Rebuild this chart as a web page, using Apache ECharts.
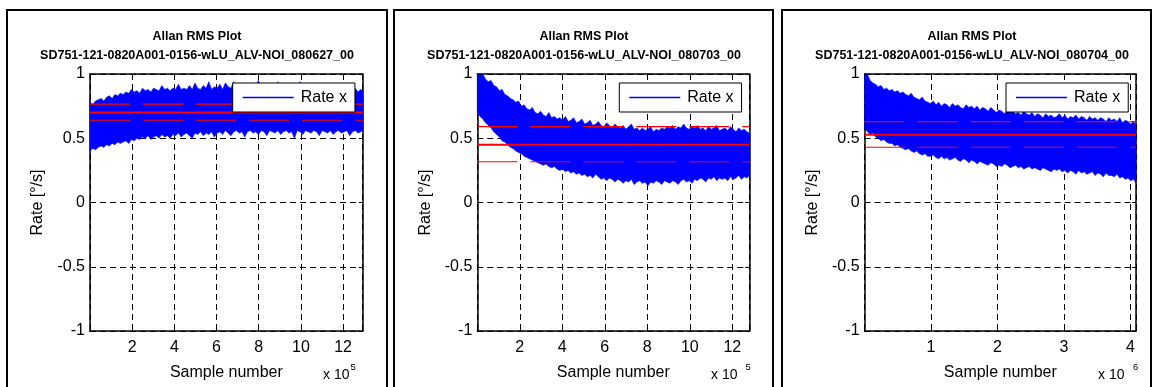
<!DOCTYPE html>
<html>
<head>
<meta charset="utf-8">
<script src="https://cdn.jsdelivr.net/npm/echarts@6/dist/echarts.min.js"></script>
<style>
  html, body { margin: 0; padding: 0; background: #fff; }
  #chart { width: 1153px; height: 387px; }
</style>
</head>
<body>
<div id="chart"></div>
<script>
// ---- data ----
const chartTitle = 'Allan RMS Plot';
const runNames = [
  'SD751-121-0820A001-0156-wLU_ALV-NOI_080627_00',
  'SD751-121-0820A001-0156-wLU_ALV-NOI_080703_00',
  'SD751-121-0820A001-0156-wLU_ALV-NOI_080704_00'
];
const seriesName = 'Rate x';
const xAxisName = 'Sample number';
const yAxisName = 'Rate [°/s]';
const xExponents = ['5', '5', '6'];
const xScale = [1e5, 1e5, 1e6];
const xMax = [1293000, 1280000, 4085000];
const xInterval = [200000, 200000, 1000000];
const yMin = -1, yMax = 1, yInterval = 0.5;

// rate envelope (min / max of the raw rate within each block of samples)
const p1Step = 13100;
const p1Hi = [
  0.78, 0.76, 0.79, 0.80, 0.81, 0.79, 0.82, 0.83, 0.81, 0.84,
  0.83, 0.85, 0.84, 0.86, 0.85, 0.88, 0.86, 0.87, 0.85, 0.89,
  0.87, 0.88, 0.86, 0.89, 0.88, 0.87, 0.91, 0.88, 0.89, 0.87,
  0.89, 0.88, 0.92, 0.88, 0.89, 0.88, 0.91, 0.88, 0.93, 0.89,
  0.88, 0.91, 0.89, 0.94, 0.88, 0.90, 0.89, 0.92, 0.88, 0.93,
  0.90, 0.89, 0.94, 0.90, 0.89, 0.92, 0.88, 0.93, 0.90, 0.89,
  0.91, 0.95, 0.89, 0.90, 0.93, 0.89, 0.91, 0.90, 0.94, 0.89,
  0.90, 0.93, 0.89, 0.91, 0.88, 0.90, 0.94, 0.89, 0.90, 0.88,
  0.92, 0.89, 0.88, 0.91, 0.88, 0.89, 0.93, 0.88, 0.88, 0.90,
  0.88, 0.91, 0.88, 0.87, 0.90, 0.88, 0.89, 0.86, 0.88, 0.87
];
const p1Lo = [
  0.40, 0.42, 0.41, 0.43, 0.44, 0.43, 0.45, 0.44, 0.46, 0.45,
  0.47, 0.46, 0.47, 0.48, 0.46, 0.49, 0.48, 0.50, 0.49, 0.51,
  0.50, 0.52, 0.49, 0.51, 0.52, 0.50, 0.53, 0.51, 0.52, 0.50,
  0.53, 0.52, 0.54, 0.51, 0.53, 0.54, 0.52, 0.50, 0.54, 0.53,
  0.55, 0.52, 0.54, 0.53, 0.55, 0.51, 0.54, 0.55, 0.53, 0.56,
  0.54, 0.52, 0.55, 0.56, 0.54, 0.55, 0.51, 0.55, 0.56, 0.54,
  0.55, 0.53, 0.56, 0.55, 0.52, 0.56, 0.55, 0.54, 0.56, 0.53,
  0.55, 0.56, 0.54, 0.55, 0.50, 0.56, 0.55, 0.53, 0.56, 0.55,
  0.54, 0.56, 0.55, 0.52, 0.56, 0.55, 0.54, 0.56, 0.53, 0.55,
  0.56, 0.54, 0.55, 0.56, 0.52, 0.55, 0.56, 0.54, 0.55, 0.56
];

const p2Step = 12950;
const p2Hi = [
  1.02, 0.99, 1.00, 0.96, 0.94, 0.95, 0.91, 0.90, 0.87, 0.88,
  0.84, 0.83, 0.81, 0.80, 0.78, 0.79, 0.75, 0.76, 0.73, 0.72,
  0.74, 0.70, 0.69, 0.71, 0.68, 0.67, 0.70, 0.66, 0.67, 0.65,
  0.66, 0.64, 0.67, 0.63, 0.64, 0.66, 0.62, 0.63, 0.65, 0.61,
  0.62, 0.64, 0.60, 0.61, 0.63, 0.60, 0.59, 0.62, 0.60, 0.58,
  0.61, 0.59, 0.58, 0.60, 0.57, 0.59, 0.61, 0.57, 0.58, 0.56,
  0.58, 0.56, 0.57, 0.59, 0.55, 0.57, 0.56, 0.58, 0.57, 0.59,
  0.58, 0.60, 0.57, 0.59, 0.58, 0.61, 0.58, 0.57, 0.59, 0.58,
  0.60, 0.57, 0.58, 0.56, 0.59, 0.57, 0.58, 0.60, 0.56, 0.57,
  0.58, 0.56, 0.59, 0.57, 0.55, 0.58, 0.56, 0.57, 0.55, 0.54
];
const p2Lo = [
  0.70, 0.67, 0.65, 0.62, 0.60, 0.58, 0.55, 0.53, 0.51, 0.48,
  0.47, 0.45, 0.43, 0.42, 0.40, 0.39, 0.38, 0.36, 0.35, 0.34,
  0.33, 0.32, 0.31, 0.30, 0.29, 0.30, 0.28, 0.27, 0.28, 0.26,
  0.25, 0.26, 0.24, 0.25, 0.23, 0.24, 0.22, 0.23, 0.21, 0.22,
  0.20, 0.21, 0.19, 0.22, 0.20, 0.18, 0.19, 0.17, 0.19, 0.18,
  0.16, 0.18, 0.17, 0.15, 0.17, 0.16, 0.18, 0.14, 0.16, 0.17,
  0.15, 0.16, 0.13, 0.16, 0.15, 0.17, 0.16, 0.14, 0.17, 0.16,
  0.15, 0.17, 0.16, 0.14, 0.17, 0.18, 0.16, 0.17, 0.15, 0.18,
  0.17, 0.19, 0.18, 0.16, 0.19, 0.18, 0.20, 0.17, 0.19, 0.18,
  0.19, 0.17, 0.20, 0.18, 0.19, 0.21, 0.18, 0.20, 0.19, 0.21
];

const p3Step = 41300;
const p3Hi = [
  0.99, 1.00, 0.95, 0.93, 0.92, 0.90, 0.91, 0.88, 0.89, 0.87,
  0.88, 0.86, 0.87, 0.85, 0.86, 0.84, 0.83, 0.85, 0.82, 0.81,
  0.80, 0.82, 0.79, 0.78, 0.77, 0.79, 0.76, 0.78, 0.75, 0.77,
  0.76, 0.74, 0.77, 0.75, 0.76, 0.74, 0.73, 0.76, 0.74, 0.75,
  0.73, 0.75, 0.72, 0.74, 0.73, 0.71, 0.74, 0.72, 0.70, 0.72,
  0.71, 0.69, 0.72, 0.70, 0.71, 0.69, 0.70, 0.68, 0.71, 0.69,
  0.68, 0.70, 0.67, 0.69, 0.68, 0.66, 0.69, 0.67, 0.68, 0.66,
  0.67, 0.69, 0.66, 0.68, 0.65, 0.67, 0.66, 0.68, 0.65, 0.67,
  0.66, 0.64, 0.67, 0.65, 0.66, 0.64, 0.66, 0.65, 0.63, 0.66,
  0.64, 0.65, 0.63, 0.66, 0.62, 0.64, 0.63, 0.61, 0.63, 0.60
];
const p3Lo = [
  0.58, 0.55, 0.53, 0.54, 0.51, 0.50, 0.48, 0.49, 0.47, 0.46,
  0.46, 0.44, 0.45, 0.43, 0.42, 0.41, 0.42, 0.40, 0.39, 0.40,
  0.38, 0.37, 0.38, 0.36, 0.36, 0.37, 0.35, 0.34, 0.36, 0.34,
  0.35, 0.33, 0.34, 0.35, 0.33, 0.32, 0.34, 0.33, 0.31, 0.33,
  0.32, 0.30, 0.32, 0.31, 0.30, 0.29, 0.31, 0.30, 0.28, 0.29,
  0.28, 0.30, 0.29, 0.27, 0.28, 0.29, 0.27, 0.28, 0.26, 0.27,
  0.28, 0.26, 0.27, 0.26, 0.25, 0.27, 0.26, 0.25, 0.24, 0.26,
  0.25, 0.26, 0.24, 0.25, 0.23, 0.25, 0.24, 0.22, 0.25, 0.23,
  0.24, 0.22, 0.23, 0.24, 0.21, 0.23, 0.22, 0.20, 0.23, 0.21,
  0.21, 0.20, 0.22, 0.19, 0.20, 0.18, 0.19, 0.17, 0.18, 0.15
];

// mean rate and mean +/- one standard deviation
const rateMean  = [0.700, 0.450, 0.528];
const rateUpper = [0.765, 0.590, 0.629];
const rateLower = [0.640, 0.317, 0.430];

// ---- layout ----
const FONT = '"Liberation Sans", Arial, Helvetica, sans-serif';
const panels = [
  { x: 7,   w: 380, titleX: 197 },
  { x: 394, w: 379, titleX: 584 },
  { x: 782, w: 369, titleX: 972 }
];
const plotRects = [
  { left: 90,    top: 74, width: 272.7, height: 257 },
  { left: 477.3, top: 74, width: 272,   height: 257 },
  { left: 864.6, top: 74, width: 271.4, height: 257 }
];
const legendPos = [
  { left: 232.7, top: 83 },
  { left: 619.3, top: 83 },
  { left: 1006,  top: 83 }
];
const exponentPos = [
  { x: 323, sx: 350.5 },
  { x: 711, sx: 745.5 },
  { x: 1098, sx: 1133 }
];

const bands = [
  { step: p1Step, hi: p1Hi, lo: p1Lo },
  { step: p2Step, hi: p2Hi, lo: p2Lo },
  { step: p3Step, hi: p3Hi, lo: p3Lo }
];

// The whole min/max envelope is drawn as one polygon (upper edge left to
// right, lower edge back), emitted from the first data item.
function renderBand(params, api) {
  if (params.dataIndexInside !== 0) return null;
  const n = params.dataInsideLength;
  const upper = [], lower = [];
  for (let k = 0; k < n; k++) {
    const x = api.value(0, k);
    upper.push(api.coord([x, api.value(2, k)]));
    lower.push(api.coord([x, api.value(1, k)]));
  }
  const cs = params.coordSys;
  const pts = echarts.graphic.clipPointsByRect(
    upper.concat(lower.reverse()),
    { x: cs.x, y: cs.y, width: cs.width, height: cs.height }
  );
  return {
    type: 'polygon',
    shape: { points: pts },
    style: { fill: '#0000ff', stroke: '#0000ff', lineWidth: 0.6 }
  };
}

const grid = [], xAxis = [], yAxis = [], series = [], legend = [], graphic = [];

panels.forEach(function (p, i) {
  grid.push(Object.assign({ containLabel: false }, plotRects[i]));

  const fmt = function (v) {
    if (v === 0 || Math.abs(v / xInterval[i] - Math.round(v / xInterval[i])) > 1e-6) return '';
    return String(Math.round(v / xScale[i]));
  };
  xAxis.push({
    type: 'value', gridIndex: i, position: 'bottom',
    min: 0, max: xMax[i], interval: xInterval[i],
    name: xAxisName, nameLocation: 'middle', nameGap: 34,
    nameTextStyle: { fontFamily: FONT, fontSize: 16, color: '#000' },
    axisLine: { show: true, onZero: false, lineStyle: { color: '#000', width: 1.5 } },
    axisTick: { show: true, inside: true, length: 4, lineStyle: { color: '#000' } },
    axisLabel: { fontFamily: FONT, fontSize: 16, color: '#000', margin: 9, formatter: fmt, showMinLabel: true, showMaxLabel: true },
    splitLine: { show: true, lineStyle: { color: '#000', width: 1, type: [6, 4] } }
  });
  xAxis.push({
    type: 'value', gridIndex: i, position: 'top',
    min: 0, max: xMax[i], interval: xInterval[i],
    axisLine: { show: true, onZero: false, lineStyle: { color: '#000', width: 1.5 } },
    axisTick: { show: true, inside: true, length: 4, lineStyle: { color: '#000' } },
    axisLabel: { show: false },
    splitLine: { show: false }
  });
  yAxis.push({
    type: 'value', gridIndex: i, position: 'left',
    min: yMin, max: yMax, interval: yInterval,
    name: yAxisName, nameLocation: 'middle', nameGap: 44, nameRotate: 90,
    nameTextStyle: { fontFamily: FONT, fontSize: 16, color: '#000' },
    axisLine: { show: true, onZero: false, lineStyle: { color: '#000', width: 1.5 } },
    axisTick: { show: true, inside: true, length: 4, lineStyle: { color: '#000' } },
    axisLabel: { fontFamily: FONT, fontSize: 16, color: '#000', margin: 5 },
    splitLine: { show: true, lineStyle: { color: '#000', width: 1, type: [6, 4] } }
  });
  yAxis.push({
    type: 'value', gridIndex: i, position: 'right',
    min: yMin, max: yMax, interval: yInterval,
    axisLine: { show: true, onZero: false, lineStyle: { color: '#000', width: 1.5 } },
    axisTick: { show: true, inside: true, length: 4, lineStyle: { color: '#000' } },
    axisLabel: { show: false },
    splitLine: { show: false }
  });

  const b = bands[i];
  series.push({
    type: 'custom', name: seriesName,
    xAxisIndex: 2 * i, yAxisIndex: 2 * i,
    renderItem: renderBand,
    itemStyle: { color: '#0000ff' },
    encode: { x: 0, y: [1, 2] },
    data: b.hi.map(function (h, k) { return [k * b.step, b.lo[k], h]; }),
    z: 2, silent: true
  });

  const hLine = function (name, v, width, dash) {
    return {
      type: 'line', name: name, xAxisIndex: 2 * i, yAxisIndex: 2 * i,
      data: [[0, v], [xMax[i], v]],
      symbol: 'none', silent: true, z: 3,
      lineStyle: { color: '#ff0000', width: width, type: dash, opacity: 1 }
    };
  };
  series.push(hLine('Mean', rateMean[i], 2, 'solid'));
  series.push(hLine('Mean + σ', rateUpper[i], 1.2, [40, 13]));
  series.push(hLine('Mean - σ', rateLower[i], 1.2, [40, 13]));

  legend.push({
    data: [seriesName],
    left: legendPos[i].left, top: legendPos[i].top,
    orient: 'vertical',
    icon: 'rect', itemWidth: 51, itemHeight: 1.3,
    padding: [6, 8, 6, 10],
    backgroundColor: '#fff', borderColor: '#000', borderWidth: 1,
    selectedMode: false,
    textStyle: { fontFamily: FONT, fontSize: 16, color: '#000', lineHeight: 17, padding: [0, 0, 0, 2] }
  });

  // panel frame
  graphic.push({
    type: 'rect', silent: true, z: 100,
    shape: { x: p.x, y: 10, width: p.w, height: 390 },
    style: { fill: null, stroke: '#000', lineWidth: 2 }
  });
  // two-line title
  graphic.push({
    type: 'text', silent: true, x: p.titleX, y: 37,
    style: { text: chartTitle, fontFamily: FONT, fontSize: 12.5, fontWeight: 'bold', fill: '#000', align: 'center', verticalAlign: 'middle' }
  });
  graphic.push({
    type: 'text', silent: true, x: p.titleX, y: 55.5,
    style: { text: runNames[i], fontFamily: FONT, fontSize: 12.5, fontWeight: 'bold', fill: '#000', align: 'center', verticalAlign: 'middle' }
  });
  // axis multiplier "x 10^n"
  graphic.push({
    type: 'text', silent: true, x: exponentPos[i].x, y: 375.5,
    style: { text: 'x 10', fontFamily: FONT, fontSize: 14, fill: '#000', align: 'left', verticalAlign: 'middle' }
  });
  graphic.push({
    type: 'text', silent: true, x: exponentPos[i].sx, y: 367,
    style: { text: xExponents[i], fontFamily: FONT, fontSize: 9.5, fill: '#000', align: 'left', verticalAlign: 'middle' }
  });
});

const chart = echarts.init(document.getElementById('chart'), null, { renderer: 'canvas' });
chart.setOption({
  backgroundColor: '#fff',
  animation: false,
  grid: grid,
  xAxis: xAxis,
  yAxis: yAxis,
  legend: legend,
  series: series,
  graphic: graphic
});
</script>
</body>
</html>
